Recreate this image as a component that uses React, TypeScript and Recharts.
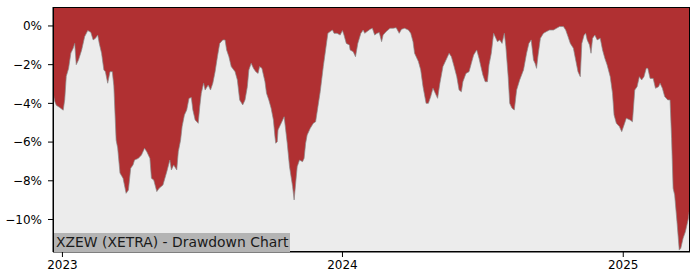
import { Area, AreaChart, CartesianGrid, XAxis, YAxis } from 'recharts';

// days since 2023-01-01
const dayOffsets = [
  -12, -10, -8, -4, 1, 3, 5, 8, 11, 14, 16, 18, 21, 25, 29, 33, 37, 40, 43, 46, 48, 51, 54, 56, 59, 62, 65, 67,
  70, 72, 75, 79, 83, 86, 89, 92, 94, 99, 103, 107, 110, 114, 116, 119, 123, 126, 131, 136, 140, 142, 145, 149,
  151, 154, 156, 159, 162, 165, 168, 170, 173, 177, 179, 181, 184, 186, 190, 193, 196, 199, 202, 205, 209, 212,
  214, 217, 220, 225, 228, 231, 235, 238, 241, 243, 246, 249, 252, 255, 257, 260, 264, 266, 269, 272, 275, 277,
  278, 280, 281, 286, 289, 291, 293, 296, 300, 302, 304, 306, 309, 313, 315, 317, 319, 323, 327, 330, 333, 336,
  340, 343, 346, 349, 352, 354, 358, 362, 365, 367, 370, 374, 375, 379, 382, 385, 389, 392, 394, 397, 401, 404,
  407, 410, 413, 416, 418, 422, 427, 431, 435, 439, 442, 446, 451, 454, 457, 459, 464, 467, 470, 474, 477, 480,
  483, 486, 489, 492, 496, 501, 504, 507, 510, 514, 517, 520, 522, 526, 530, 533, 536, 540, 543, 545, 548, 551,
  554, 556, 559, 562, 565, 567, 570, 573, 576, 578, 581, 583, 586, 589, 592, 596, 601, 605, 608, 611, 614, 616,
  618, 620, 623, 627, 631, 635, 640, 644, 648, 653, 656, 659, 662, 666, 669, 672, 675, 677, 680, 682, 684, 687,
  689, 691, 694, 697, 701, 704, 707, 710, 714, 717, 719, 722, 726, 729, 732, 735, 740, 743, 746, 749, 752, 755,
  758, 761, 763, 766, 770, 773, 777, 779, 782, 785, 789, 792, 794, 796, 798, 801, 804, 806, 809, 812, 816, 817,
];

const drawdown = [
  -3.5, -3.9, -4.1, -4.2, -4.35, -3.8, -2.6, -2.2, -1.4, -1.15, -0.9, -2.0, -1.75, -1.25, -0.55, -0.24, -0.33, -0.72,
  -0.64, -0.47, -0.9, -1.41, -2.27, -2.36, -2.96, -2.36, -2.36, -3.1,
  -5.9, -6.3, -7.6, -7.87, -8.65, -8.48, -7.35, -7.18, -6.93, -6.84, -6.67, -6.32, -6.5, -6.84, -7.87, -7.96,
  -8.56, -8.39, -8.22, -7.53, -6.93, -7.44, -7.18, -7.44,
  -6.5, -5.9, -5.2, -4.6, -4.34, -3.74, -3.7, -4.34, -4.86, -5.03, -4.17, -3.48, -2.96, -3.31, -3.05, -3.31,
  -2.96, -2.36, -1.59, -0.9, -0.72, -0.72,
  -1.24, -1.59, -2.1, -2.36, -2.79, -3.82, -4.08, -3.82, -3.14, -2.27, -1.93, -2.19, -2.36, -2.45, -2.1, -2.19,
  -2.88, -3.48, -3.82, -4.25, -4.86, -5.72,
  -6.06, -5.98, -5.37, -4.95, -4.69, -5.37, -6.06, -7.27, -8.3, -8.99, -8.13, -7.27, -6.93, -7.01, -6.84, -6.06,
  -5.63, -5.29, -5.03, -4.95, -4.17, -3.4,
  -2.1, -1.24, -0.38, -0.29, -0.21, -0.38, -0.38, -0.47, -0.24, -0.47, -0.9, -0.98, -1.24, -1.33, -1.59, -0.9,
  -0.38, -0.21, -0.38, -0.29, -0.17, -0.12,
  -0.47, -0.38, -0.34, -0.81, -0.47, -0.29, -0.12, -0.12, -0.09, -0.38, -0.17, -0.12, -0.21, -0.38, -0.81, -1.41,
  -1.84, -2.27, -3.14, -4.0, -4.0, -3.65,
  -3.22, -3.48, -3.74, -2.96, -2.1, -1.67, -1.41, -1.59, -2.02, -2.62, -3.31, -3.4, -2.88, -2.45, -2.36, -1.93,
  -1.5, -1.24, -1.67, -2.02, -2.53, -2.88,
  -2.88, -2.02, -1.41, -0.38, -0.64, -0.81, -0.72, -0.9, -0.38, -1.07, -2.62, -4.0, -4.25, -4.34, -3.31, -2.79,
  -2.27, -1.41, -0.9, -0.72, -1.76, -1.93,
  -2.19, -1.5, -0.64, -0.38, -0.29, -0.21, -0.21, -0.12, -0.03, -0.03, -0.21, -0.55, -0.9, -1.15, -1.76, -2.36,
  -2.62, -0.9, -0.47, -0.38, -0.72, -0.98,
  -1.41, -0.64, -0.47, -0.72, -0.64, -1.24, -1.67, -2.02, -2.62, -3.48, -4.6, -5.03, -5.2, -5.46, -5.12, -4.77,
  -4.86, -4.95, -3.31, -3.14, -2.62, -2.79,
  -2.62, -2.19, -2.19, -2.71, -2.71, -3.22, -3.14, -2.96, -3.22, -3.65, -3.82, -3.82, -5.8, -8.39, -8.73, -10.1,
  -11.58, -11.49, -10.97, -10.63, -9.94, -9.6,
];

const yearTicks = [0, 365, 731];
const yearLabels = ['2023', '2024', '2025'];
const pctTicks = [0, -2, -4, -6, -8, -10];

const Y_TOP = 0.98;
const Y_BOTTOM = -11.68;
const chartData = dayOffsets.map((d, i) => ({ day: d, dd: drawdown[i] }));

const tickStyle = { fontFamily: 'DejaVu Sans', fontSize: 12, fill: '#000' };

export default function App() {
  return (
    <div style={{ position: 'absolute', left: 0, top: 0, width: 700, height: 280, background: '#fff' }}>
      <AreaChart width={700} height={280} data={chartData} margin={{ top: 7, right: 10, bottom: 0, left: 0 }}>
        <CartesianGrid horizontal={false} vertical={false} fill="#ececec" />
        <XAxis
          dataKey="day" type="number" domain={[-12.3, 818]} ticks={yearTicks} height={28}
          tickFormatter={(v: number) => yearLabels[yearTicks.indexOf(v)] ?? ''}
          tick={tickStyle} tickSize={5} tickMargin={3} stroke="#000" allowDataOverflow
        />
        <YAxis
          type="number" domain={[Y_BOTTOM, Y_TOP]} ticks={pctTicks} width={53}
          tickFormatter={(v: number) => (v < 0 ? `\u2212${Math.abs(v)}%` : `${v}%`)}
          tick={tickStyle} tickSize={5} tickMargin={6} stroke="#000" allowDataOverflow
        />
        <Area
          type="linear" dataKey="dd" baseValue={Y_TOP} fill="#b03032" fillOpacity={1}
          stroke="#8a8a8a" strokeWidth={0.7} isAnimationActive={false} dot={false} activeDot={false}
        />
      </AreaChart>
      <div style={{
        position: 'absolute', left: 53, top: 7, width: 637, height: 245, boxSizing: 'border-box',
        border: '1px solid #000', pointerEvents: 'none',
      }} />
      <div style={{
        position: 'absolute', left: 54, top: 232.5, width: 236, height: 19, background: '#b4b4b4',
        fontFamily: 'DejaVu Sans', fontSize: 13.9, color: '#1a1a1a', lineHeight: '19px', paddingLeft: 2,
        boxSizing: 'border-box', whiteSpace: 'nowrap',
      }}>
        XZEW (XETRA) - Drawdown Chart
      </div>
    </div>
  );
}
